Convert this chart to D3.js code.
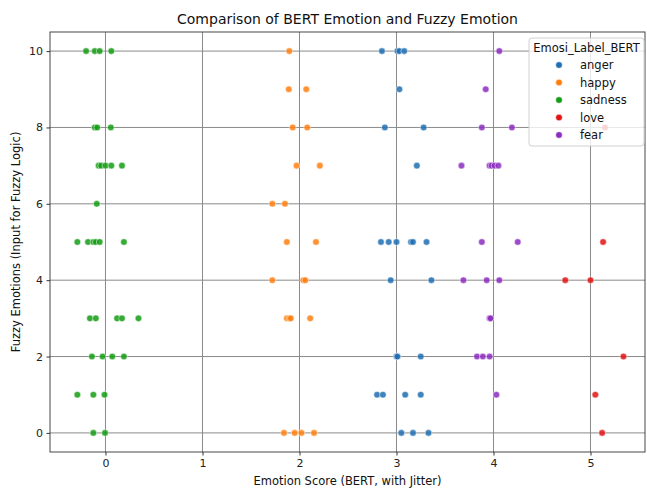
<!DOCTYPE html>
<html>
<head>
<meta charset="utf-8">
<script src="https://cdn.jsdelivr.net/npm/d3@7"></script>
<style>
  body { margin: 0; background: #fff; }
  svg { font-family: "DejaVu Sans", sans-serif; }
</style>
</head>
<body>
<svg id="chart" width="647" height="490"></svg>
<script>
// ---- data (Emotion Score with jitter, Fuzzy emotion) ----
const categories = ["anger", "happy", "sadness", "love", "fear"];
const angerPts = [[2.85,10],[3.01,10],[3.03,10],[3.08,10],[3.03,9],[2.88,8],[3.28,8],[3.21,7],
  [2.84,5],[2.92,5],[3.0,5],[3.15,5],[3.17,5],[3.31,5],[2.94,4],[3.36,4],
  [3.0,2],[3.01,2],[3.25,2],[2.80,1],[2.86,1],[3.09,1],[3.25,1],[3.05,0],[3.17,0],[3.33,0]];
const happyPts = [[1.895,10],[1.89,9],[2.07,9],[1.93,8],[2.08,8],[1.97,7],[2.21,7],[1.72,6],[1.85,6],
  [1.87,5],[2.17,5],[1.72,4],[2.04,4],[2.06,4],[1.87,3],[1.895,3],[1.91,3],[2.11,3],
  [1.84,0],[1.95,0],[2.02,0],[2.15,0]];
const sadnessPts = [[-0.20,10],[-0.11,10],[-0.06,10],[0.06,10],[-0.11,8],[-0.085,8],[0.055,8],
  [-0.07,7],[-0.045,7],[0.0,7],[0.06,7],[0.17,7],[-0.09,6],
  [-0.29,5],[-0.18,5],[-0.125,5],[-0.10,5],[-0.06,5],[0.19,5],
  [-0.16,3],[-0.10,3],[0.12,3],[0.17,3],[0.34,3],[-0.14,2],[-0.03,2],[0.07,2],[0.19,2],
  [-0.29,1],[-0.125,1],[-0.01,1],[-0.125,0],[-0.005,0]];
const lovePts = [[5.15,8],[5.13,5],[4.74,4],[5.0,4],[5.34,2],[5.05,1],[5.12,0]];
const fearPts = [[4.06,10],[3.92,9],[3.88,8],[4.19,8],[3.67,7],[3.96,7],[3.98,7],[4.01,7],[4.05,7],
  [3.88,5],[4.25,5],[3.69,4],[3.93,4],[4.06,4],[3.96,3],[3.97,3],[3.83,2],[3.89,2],[3.96,2],[4.03,1]];
const xTicks = [0, 1, 2, 3, 4, 5];
const yTicks = [0, 2, 4, 6, 8, 10];
const colors = ["#1f6fb2", "#ff7f0e", "#139c13", "#e31212", "#8c2dc0"];

const series = [
  {name: "anger", pts: angerPts},
  {name: "happy", pts: happyPts},
  {name: "sadness", pts: sadnessPts},
  {name: "love", pts: lovePts},
  {name: "fear", pts: fearPts}
];

// ---- layout ----
const L = 50, R = 645, T = 32, B = 452;
const svg = d3.select("#chart");
const x = d3.scaleLinear().domain([-0.572, 5.562]).range([L, R]);
const y = d3.scaleLinear().domain([-0.5, 10.5]).range([B, T]);
const color = d3.scaleOrdinal().domain(categories).range(colors);

// grid
const g = svg.append("g");
g.selectAll(".gx").data(xTicks).join("line")
  .attr("x1", d => x(d)).attr("x2", d => x(d)).attr("y1", T).attr("y2", B)
  .attr("stroke", "#8a8a8a").attr("stroke-width", 1);
g.selectAll(".gy").data(yTicks).join("line")
  .attr("x1", L).attr("x2", R).attr("y1", d => y(d)).attr("y2", d => y(d))
  .attr("stroke", "#8a8a8a").attr("stroke-width", 1);

// axes
const xAxis = svg.append("g").attr("transform", `translate(0,${B})`)
  .call(d3.axisBottom(x).tickValues(xTicks).tickSize(3.5).tickPadding(3.5).tickFormat(d3.format("d")));
const yAxis = svg.append("g").attr("transform", `translate(${L},0)`)
  .call(d3.axisLeft(y).tickValues(yTicks).tickSize(3.5).tickPadding(3.5).tickFormat(d3.format("d")));
[xAxis, yAxis].forEach(a => {
  a.selectAll("text").attr("font-size", 11).attr("fill", "#222").attr("font-family", "DejaVu Sans, sans-serif");
  a.selectAll("line").attr("stroke", "#333");
  a.select(".domain").remove();
});
// spines
svg.append("rect").attr("x", L).attr("y", T).attr("width", R - L).attr("height", B - T)
  .attr("fill", "none").attr("stroke", "#333").attr("stroke-width", 0.9);

// points
series.forEach(s => {
  svg.append("g").selectAll("circle").data(s.pts).join("circle")
    .attr("cx", d => x(d[0])).attr("cy", d => y(d[1])).attr("r", 3.3)
    .attr("fill", color(s.name)).attr("fill-opacity", 0.85)
    .attr("stroke", "#fff").attr("stroke-width", 0.5);
});

// title & labels
svg.append("text").attr("x", (L + R) / 2).attr("y", 24).attr("text-anchor", "middle")
  .attr("font-size", 14).attr("fill", "#111").text("Comparison of BERT Emotion and Fuzzy Emotion");
svg.append("text").attr("x", (L + R) / 2).attr("y", 485).attr("text-anchor", "middle")
  .attr("font-size", 11.5).attr("fill", "#111").text("Emotion Score (BERT, with Jitter)");
svg.append("text").attr("transform", `translate(20,${(T + B) / 2}) rotate(-90)`).attr("text-anchor", "middle")
  .attr("font-size", 11.5).attr("fill", "#111").text("Fuzzy Emotions (Input for Fuzzy Logic)");

// legend
const lg = svg.append("g");
lg.append("rect").attr("x", 529).attr("y", 38).attr("width", 115).attr("height", 108)
  .attr("rx", 3).attr("fill", "#fff").attr("fill-opacity", 0.8).attr("stroke", "#d0d0d0");
lg.append("text").attr("x", 586.5).attr("y", 52).attr("text-anchor", "middle")
  .attr("font-size", 11.5).attr("fill", "#111").text("Emosi_Label_BERT");
categories.forEach((c, i) => {
  const yy = 65 + i * 17.5;
  lg.append("circle").attr("cx", 559).attr("cy", yy).attr("r", 3.3)
    .attr("fill", color(c)).attr("stroke", "#fff").attr("stroke-width", 0.5);
  lg.append("text").attr("x", 580).attr("y", yy + 4).attr("font-size", 11.5).attr("fill", "#111").text(c);
});
</script>
</body>
</html>
